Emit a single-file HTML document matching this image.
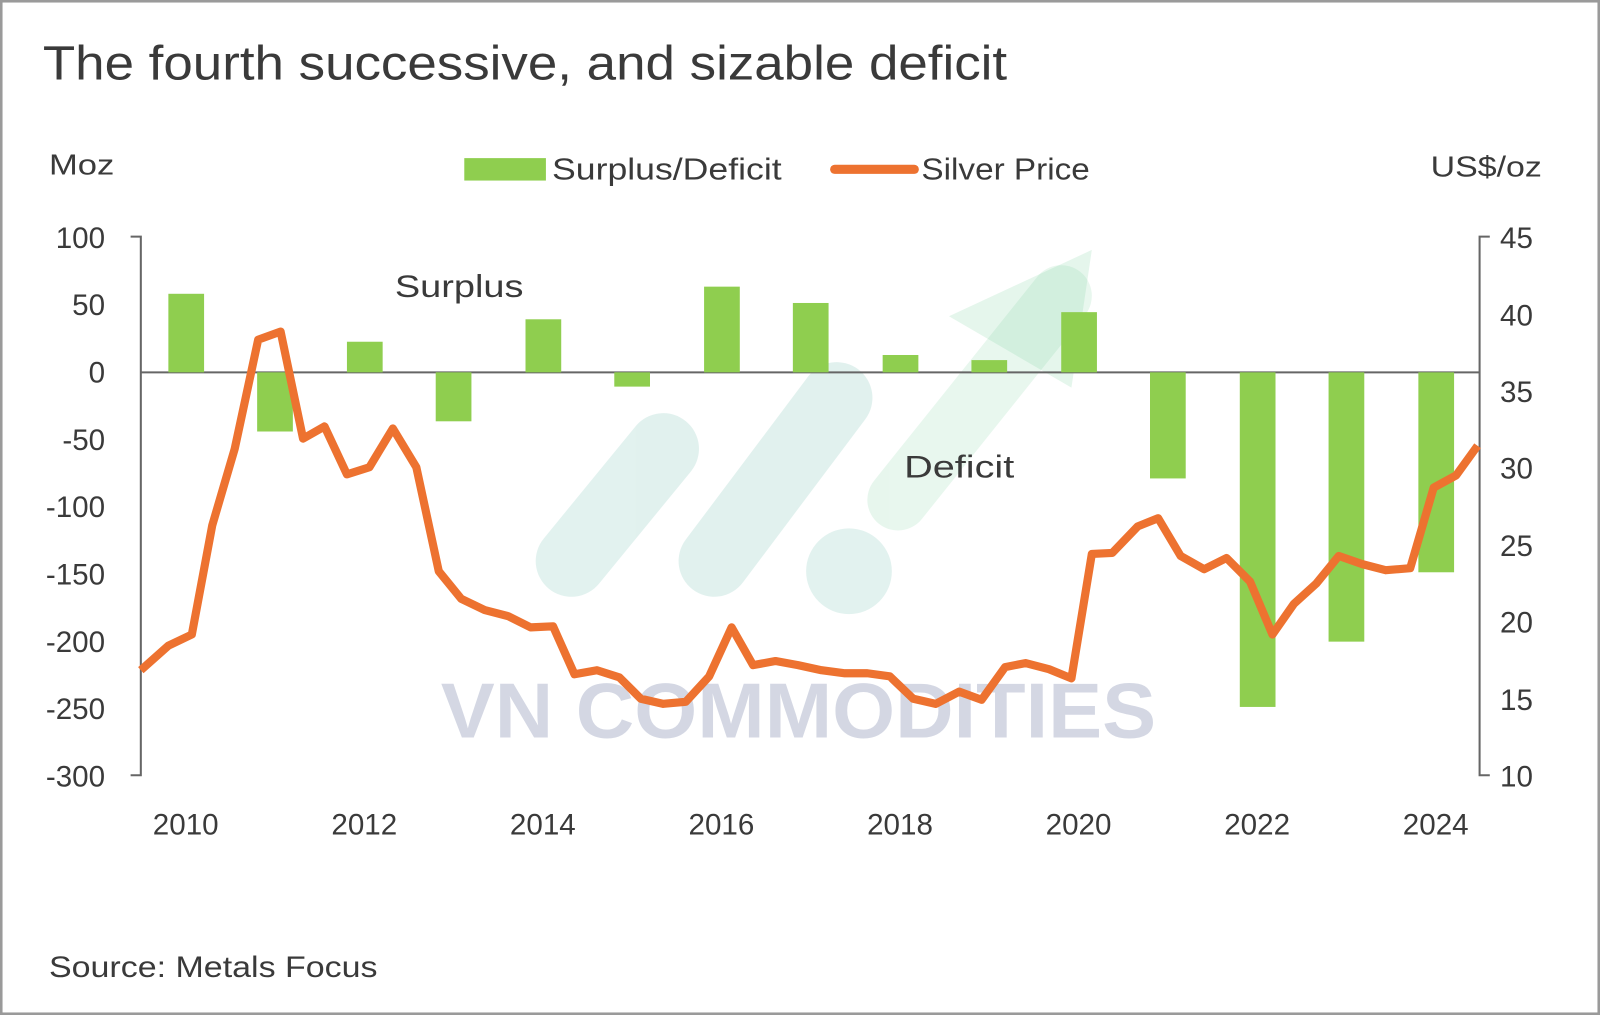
<!DOCTYPE html>
<html><head><meta charset="utf-8"><style>
html,body{margin:0;padding:0;background:#fff;}
svg{display:block;}
text{font-family:"Liberation Sans",sans-serif;fill:#3a3a3a;}
</style></head><body>
<svg width="1600" height="1015" viewBox="0 0 1568 995" preserveAspectRatio="none">
<rect x="1" y="1" width="1566" height="993" fill="#fff" stroke="#9a9a9a" stroke-width="3"/>
<text x="42" y="78" font-size="47" textLength="945" lengthAdjust="spacingAndGlyphs">The fourth successive, and sizable deficit</text>
<text x="48" y="171" font-size="28" textLength="64" lengthAdjust="spacingAndGlyphs">Moz</text>
<text x="1402" y="173" font-size="28" textLength="109" lengthAdjust="spacingAndGlyphs">US$/oz</text>
<rect x="455" y="155" width="80" height="22" fill="#8fce4f"/>
<text x="541" y="176" font-size="30" textLength="225" lengthAdjust="spacingAndGlyphs">Surplus/Deficit</text>
<line x1="818" y1="166" x2="896" y2="166" stroke="#ed7230" stroke-width="9" stroke-linecap="round"/>
<text x="903" y="176" font-size="30" textLength="165" lengthAdjust="spacingAndGlyphs">Silver Price</text>
<!-- watermark -->
<g opacity="0.18" stroke-linecap="round" fill="none">
<line x1="560" y1="550" x2="650" y2="440" stroke="#5fb5a5" stroke-width="70"/>
<line x1="700" y1="550" x2="820" y2="390" stroke="#5fb5a5" stroke-width="70"/>
<line x1="880" y1="490" x2="1040" y2="290" stroke="#7fd0a0" stroke-width="60"/>
</g>
<circle cx="832" cy="560" r="42" fill="#5fb5a5" opacity="0.18"/>
<polygon points="930,310 1070,245 1050,380" fill="#7fd0a0" opacity="0.2"/>
<text x="432" y="723" font-size="76" font-weight="bold" style="fill:#b8bed2" opacity="0.6" textLength="701" lengthAdjust="spacingAndGlyphs">VN COMMODITIES</text>
<!-- axes -->
<g stroke="#666" stroke-width="2" fill="none">
<polyline points="128,232 138,232 138,760 128,760"/>
<polyline points="1460,232 1450,232 1450,760 1460,760"/>
<line x1="138" y1="365" x2="1450" y2="365"/>
</g>
<g font-size="29" text-anchor="end">
<text x="103" y="243">100</text><text x="103" y="309">50</text><text x="103" y="375">0</text>
<text x="103" y="441">-50</text><text x="103" y="507">-100</text><text x="103" y="573">-150</text>
<text x="103" y="639">-200</text><text x="103" y="705">-250</text><text x="103" y="771">-300</text>
</g>
<g font-size="29">
<text x="1470" y="243">45</text><text x="1470" y="319">40</text><text x="1470" y="394">35</text>
<text x="1470" y="469">30</text><text x="1470" y="545">25</text><text x="1470" y="620">20</text>
<text x="1470" y="696">15</text><text x="1470" y="771">10</text>
</g>
<g font-size="29" text-anchor="middle">
<text x="182" y="818">2010</text><text x="357" y="818">2012</text><text x="532" y="818">2014</text>
<text x="707" y="818">2016</text><text x="882" y="818">2018</text><text x="1057" y="818">2020</text>
<text x="1232" y="818">2022</text><text x="1407" y="818">2024</text>
</g>
<text x="387" y="291" font-size="31" textLength="126" lengthAdjust="spacingAndGlyphs">Surplus</text>
<text x="886" y="468" font-size="31" textLength="108" lengthAdjust="spacingAndGlyphs">Deficit</text>
<g fill="#8fce4f">
<rect x="165" y="288" width="35" height="77"/>
<rect x="252" y="365" width="35" height="58"/>
<rect x="340" y="335" width="35" height="30"/>
<rect x="427" y="365" width="35" height="48"/>
<rect x="515" y="313" width="35" height="52"/>
<rect x="602" y="365" width="35" height="14"/>
<rect x="690" y="281" width="35" height="84"/>
<rect x="777" y="297" width="35" height="68"/>
<rect x="865" y="348" width="35" height="17"/>
<rect x="952" y="353" width="35" height="12"/>
<rect x="1040" y="306" width="35" height="59"/>
<rect x="1127" y="365" width="35" height="104"/>
<rect x="1215" y="365" width="35" height="328"/>
<rect x="1302" y="365" width="35" height="264"/>
<rect x="1390" y="365" width="35" height="196"/>
</g>
<polyline fill="none" stroke="#ed7230" stroke-width="8" stroke-linejoin="round" points="138,657 165,633 188,622 208,515 230,440 253,333 275,325 297,430 318,418 340,465 362,458 385,420 408,458 430,560 452,587 475,598 498,604 520,615 542,614 563,661 585,657 607,664 628,685 650,690 672,688 695,663 717,615 738,652 760,648 782,652 805,657 828,660 850,660 872,663 895,685 917,690 940,678 962,686 985,654 1005,650 1028,656 1050,665 1070,543 1090,542 1115,516 1135,508 1157,545 1180,558 1202,547 1225,570 1247,622 1268,592 1290,572 1312,545 1335,553 1358,559 1382,557 1405,478 1427,466 1448,437"/>
<text x="48" y="958" font-size="29" textLength="322" lengthAdjust="spacingAndGlyphs">Source: Metals Focus</text>
</svg>
</body></html>
